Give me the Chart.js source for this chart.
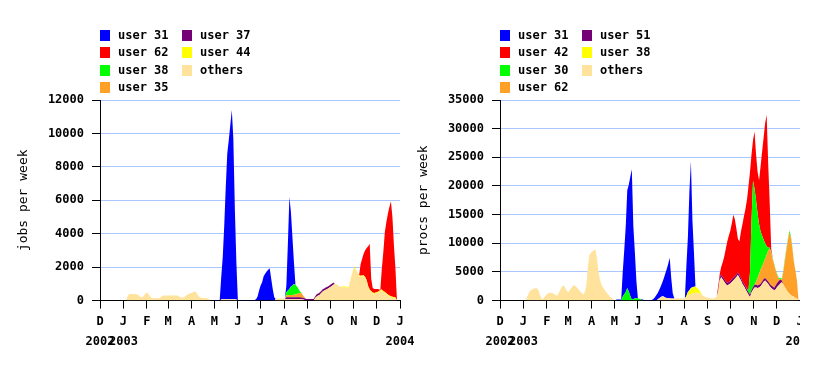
<!DOCTYPE html>
<html>
<head>
<meta charset="utf-8">
<script src="https://cdn.jsdelivr.net/npm/chart.js@4.4.1/dist/chart.umd.min.js"></script>
<style>
    body { margin: 0; background: #fff; width: 840px; height: 366px; overflow: hidden; position: relative; }
    canvas { position: absolute; top: 0; }
    #jobsChart { left: 0; }
    #procsChart { left: 400px; }
    .legend { position: absolute; top: 0; font: bold 12px "DejaVu Sans Mono", monospace; color: #000; }
    .legend .item { position: absolute; white-space: nowrap; height: 11px; line-height: 11px; }
    .legend .box { position: absolute; left: 0; top: 0; width: 10px; height: 11px; }
    .legend .txt { position: absolute; left: 18px; top: 0; }
</style>
</head>
<body>
<canvas id="jobsChart" width="420" height="366"></canvas>
<canvas id="procsChart" width="400" height="366"></canvas>
<div class="legend" id="jobsLegend" style="left:0"></div>
<div class="legend" id="procsLegend" style="left:400px"></div>
<script>
    // x axis: days since 1 Dec 2002, one sample every 2 days
    const monthTicks = [0, 31, 62, 90, 121, 151, 182, 212, 243, 274, 304, 335, 365, 396];
    const monthLetters = ["D", "J", "F", "M", "A", "M", "J", "J", "A", "S", "O", "N", "D", "J"];
    const yearLabels = { 0: "2002", 31: "2003", 396: "2004" };

    // each series: [firstDay, [values every 2 days]] segments, zero elsewhere

    // JOBS PER WEEK
    const jobsOthers = [
        [34, [0, 200, 380, 400, 400, 400, 400, 380, 350, 280, 220, 200, 300, 420, 480, 400, 260, 160, 140, 140, 140, 140, 140, 200, 280,
            300, 300, 300, 300, 300, 300, 300, 300, 300, 300, 260, 200, 180, 180, 250, 320, 380, 420, 440, 480, 520, 540, 420, 280, 180,
            170, 160, 160, 160, 120, 60, 0]],
        [158, [0, 60, 80, 80, 80, 80, 80, 80, 80, 80, 80, 60, 0]],
        [230, [0, 100, 120, 120, 120, 120, 120, 120, 80, 80, 80, 80, 80, 80, 80, 80, 80, 80, 80, 60, 40, 0]],
        [282, [0, 150, 250, 300, 350, 450, 550, 600, 650, 700, 750, 820, 880, 950, 1000, 980, 920, 860, 820, 800, 780, 780, 770, 760,
            1100, 1450, 1800, 2000, 1800, 1600, 1450, 1420, 1440, 1450, 1350, 1150, 800, 600, 500, 420, 400, 420, 450, 500, 580, 600,
            520, 450, 380, 300, 250, 200, 170, 150, 120, 0]]
    ];
    const jobsUser44 = [
        [318, [0, 60, 60, 60, 60, 60, 60, 60, 60, 60, 60, 60, 60, 60, 60, 60, 60, 60, 60, 60, 60, 60, 60, 60, 60, 60, 60, 60, 60, 60,
            60, 60, 60, 60, 60, 60, 60, 0]]
    ];
    const jobsUser37 = [
        [244, [0, 120, 120, 120, 120, 120, 120, 120, 120, 120, 120, 100, 100, 100, 100, 100, 100, 100, 100, 100, 100,
            130, 130, 130, 130, 130, 130, 130, 130, 130, 130, 130, 130, 0]]
    ];
    const jobsUser35 = [
        [244, [0, 100, 130, 140, 140, 140, 150, 170, 200, 240, 260, 260, 140, 60, 0]]
    ];
    const jobsUser38 = [
        [244, [0, 200, 270, 360, 510, 560, 650, 580, 450, 260, 90, 20, 0]]
    ];
    const jobsUser62 = [
        [342, [0, 700, 1000, 1300, 1600, 1940, 2390, 2740, 740, 270, 240, 220, 190, 120, 0,
            1240, 2320, 3590, 4260, 4840, 5290, 5680, 4770, 3090, 1720, 0]]
    ];
    const jobsUser31 = [
        [148, [0, 30, 30, 30, 30, 40, 1340, 2520, 4420, 6720, 8720, 9520, 10420, 11320, 9620, 5420, 2240, 40,
            40, 40, 40, 40, 40, 40, 40, 40, 40, 40, 40,
            80, 250, 600, 900, 1100, 1450, 1600, 1740, 1850, 1940, 1300, 700, 200, 0]],
        [244, [0, 400, 2800, 5500, 4450, 2900, 1300, 0]]
    ];

    // PROCS PER WEEK
    const procsOthers = [
        [34, [0, 700, 1300, 1750, 1900, 2040, 2150, 2220, 2000, 1300, 600, 175, 500, 900, 1100, 1340, 1340, 1340, 1300, 1100, 875, 900,
            1500, 2000, 2500, 2740, 2200, 1750, 1460, 1800, 2200, 2500, 2740, 2500, 2200, 1900, 1600, 1300, 1050, 1500, 2625, 6000,
            8000, 8300, 8575, 8800, 8925, 7300, 5000, 3600, 2800, 2300, 1900, 1500, 1200, 900, 600, 350, 150, 0]],
        [206, [0, 200, 400, 600, 750, 700, 550, 450, 400, 400, 350, 350, 350, 350, 350, 350, 350, 350, 350, 350,
            500, 800, 1000, 1150, 1250, 1300, 1350, 1400, 1300, 1150, 1000, 850, 700, 600, 500, 450, 400, 350, 350, 500, 700,
            1500, 3500, 4100, 3700, 3300, 2900, 2650, 2800, 3000, 3250, 3500, 3800, 4100, 4450, 4000, 3500, 2900, 2500, 2000, 1500,
            1000, 580, 1400, 1900, 2300, 2300, 2200, 2300, 2500, 2900, 3300, 3500, 3200, 2900, 2500, 2200, 2000, 1800, 2000, 2400,
            2700, 3000, 3200, 2800, 2350, 1900, 1500, 1200, 950, 800, 650, 500, 350, 0]]
    ];
    const procsUser38 = [
        [244, [0, 300, 700, 800, 1050, 1100, 1100, 1100, 800, 700, 450, 150, 0]]
    ];
    const procsUser51 = [
        [286, [0, 300, 500, 450, 450, 450, 450, 450, 450, 450, 450, 450, 450, 450, 450, 450, 450, 450, 450, 450, 450, 450, 450,
            450, 450, 450, 450, 450, 450, 450, 450, 450, 450, 450, 450, 450, 450, 450, 450, 700, 700, 700, 700, 300, 0]]
    ];
    const procsUser62 = [
        [336, [0, 550, 1350, 1950, 2450, 2650, 2850, 3350, 4350, 5350, 6150, 5550, 4750, 3950, 2500, 1300, 400, 0,
            200, 2200, 4650, 6900, 9000, 10700, 10050, 8200, 6050, 4700, 3150, 0]]
    ];
    const procsUser30 = [
        [160, [0, 700, 1100, 1500, 2200, 1600, 800, 200, 250, 400, 470, 420, 320, 200, 80, 0]],
        [324, [0, 100, 350, 3970, 12150, 18550, 16750, 14200, 11200, 8600, 6600, 5300, 4000, 2700, 1500, 500, 150,
            200, 200, 200, 200, 200, 200, 200, 150, 300, 300, 300, 300, 350, 300, 200, 100, 0]]
    ];
    const procsUser42 = [
        [286, [0, 700, 600, 1350, 2550, 3950, 5650, 7200, 8050, 8750, 9800, 11050, 9950, 8050, 5900, 5850, 8050, 9950,
            11750, 13550, 15550, 18200, 17500, 11500, 7100, 10000, 8000, 7300, 7700, 11500, 14700, 17900, 21000, 22900,
            14800, 7850, 600, 0]]
    ];
    const procsUser31 = [
        [152, [0, 200, 200, 200, 200, 4300, 7700, 11500, 17050, 18600, 20800, 22700, 12750, 8100, 3030, 0, 0,
            100, 100, 100, 100, 100, 100, 100, 100,
            250, 500, 875, 1100, 1400, 1800, 2300, 3100, 4100, 5000, 6000, 7070, 3650, 950, 50, 0]],
        [244, [0, 5200, 9500, 17200, 22100, 11650, 6100, 0]]
    ];

    const colors = {
        blue: "#0000ff", red: "#ff0000", green: "#00ff00", orange: "#ffa028",
        purple: "#760076", yellow: "#ffff00", others: "#ffe29c"
    };

    const gridDays = [];
    for (let d = 0; d <= 396; d += 2) gridDays.push(d);

    const toPoints = (segs) => {
        const m = new Map();
        segs.forEach(([start, vals]) => vals.forEach((v, i) => m.set(start + 2 * i, v)));
        return gridDays.map(d => ({ x: d, y: m.get(d) || 0 }));
    };

    const MONO = "'DejaVu Sans Mono', monospace";

    function buildLegend(id, series) {
        const el = document.getElementById(id);
        const items = series.slice().reverse();
        items.forEach((s, i) => {
            const col = Math.floor(i / 4), row = i % 4;
            const it = document.createElement("div");
            it.className = "item";
            it.style.left = (100 + col * 82) + "px";
            it.style.top = (30 + row * 17.4) + "px";
            it.innerHTML = `<span class="box" style="background:${s.color}"></span><span class="txt">${s.label}</span>`;
            el.appendChild(it);
        });
    }

    function buildChart(canvasId, legendId, series, yMax, yStep, title, padRight) {
        buildLegend(legendId, series);
        const datasets = series.map((s, i) => ({
            label: s.label,
            data: toPoints(s.segs),
            backgroundColor: s.color,
            borderColor: s.color,
            borderWidth: 0,
            pointRadius: 0,
            tension: 0,
            fill: i === 0 ? "origin" : "-1"
        }));
        return new Chart(document.getElementById(canvasId), {
            type: "line",
            data: { datasets },
            options: {
                responsive: false,
                animation: false,
                events: [],
                layout: { padding: { top: 100, left: 0, right: padRight, bottom: 11 } },
                plugins: { legend: { display: false }, tooltip: { enabled: false } },
                scales: {
                    x: {
                        type: "linear", min: 0, max: 396,
                        afterBuildTicks: s => { s.ticks = monthTicks.map(v => ({ value: v })); },
                        afterFit: s => { s.paddingLeft = 0; s.paddingRight = 0; },
                        grid: { drawOnChartArea: false, drawTicks: true, tickLength: 8, tickColor: "#000" },
                        border: { color: "#000" },
                        ticks: {
                            autoSkip: false, maxRotation: 0, padding: 4, color: "#000",
                            font: { family: MONO, size: 12, weight: "bold", lineHeight: 1.6 },
                            callback: v => {
                                const i = monthTicks.indexOf(v);
                                const yr = yearLabels[v];
                                return yr ? [monthLetters[i], yr] : monthLetters[i];
                            }
                        }
                    },
                    y: {
                        stacked: true, min: 0, max: yMax,
                        afterFit: s => { s.width = 100; s.paddingTop = 0; s.paddingBottom = 0; },
                        grid: { color: "#aac8ff", tickColor: "#000", tickLength: 8 },
                        border: { color: "#000" },
                        ticks: {
                            stepSize: yStep, padding: 8, color: "#000",
                            font: { family: MONO, size: 12, weight: "bold" },
                            callback: v => String(v)
                        },
                        title: {
                            display: true, text: title, color: "#000",
                            font: { family: MONO, size: 13 }, padding: { top: 16, bottom: 0 }
                        }
                    }
                }
            }
        });
    }

    // stacking order: bottom first
    buildChart("jobsChart", "jobsLegend", [
        { label: "others", color: colors.others, segs: jobsOthers },
        { label: "user 44", color: colors.yellow, segs: jobsUser44 },
        { label: "user 37", color: colors.purple, segs: jobsUser37 },
        { label: "user 35", color: colors.orange, segs: jobsUser35 },
        { label: "user 38", color: colors.green, segs: jobsUser38 },
        { label: "user 62", color: colors.red, segs: jobsUser62 },
        { label: "user 31", color: colors.blue, segs: jobsUser31 }
    ], 12000, 2000, "jobs per week", 20);

    buildChart("procsChart", "procsLegend", [
        { label: "others", color: colors.others, segs: procsOthers },
        { label: "user 38", color: colors.yellow, segs: procsUser38 },
        { label: "user 51", color: colors.purple, segs: procsUser51 },
        { label: "user 62", color: colors.orange, segs: procsUser62 },
        { label: "user 30", color: colors.green, segs: procsUser30 },
        { label: "user 42", color: colors.red, segs: procsUser42 },
        { label: "user 31", color: colors.blue, segs: procsUser31 }
    ], 35000, 5000, "procs per week", 0);
</script>
</body>
</html>
